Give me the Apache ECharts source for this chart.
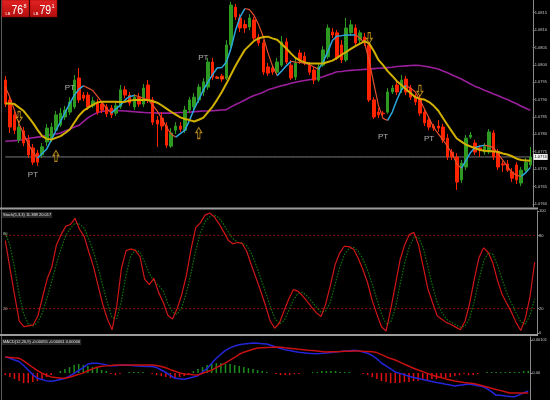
<!DOCTYPE html>
<html><head><meta charset="utf-8">
<script src="https://cdn.jsdelivr.net/npm/echarts@6/dist/echarts.min.js"></script>
<style>html,body{margin:0;padding:0;background:#000;}#c{width:550px;height:400px;}</style>
</head><body><div id="c"></div>
<script>
const open = [1.07956,1.07899,1.07856,1.07784,1.07810,1.07784,1.07761,1.07746,1.07741,1.07778,
1.07784,1.07812,1.07827,1.07850,1.07864,1.07879,1.07962,1.07913,1.07913,1.07882,
1.07890,1.07887,1.07879,1.07876,1.07861,1.07879,1.07928,1.07913,1.07879,1.07907,
1.07887,1.07942,1.07899,1.07841,1.07847,1.07824,1.07766,1.07812,1.07824,1.07812,
1.07870,1.07879,1.07899,1.07922,1.07936,1.08008,1.07965,1.07968,1.07962,1.08057,
1.08166,1.08135,1.08116,1.08109,1.08129,1.08080,1.08063,1.07994,1.07991,1.07979,
1.07999,1.08066,1.07999,1.07965,1.08034,1.08025,1.07999,1.07985,1.07956,1.07999,
1.08023,1.08094,1.08092,1.08057,1.08014,1.08092,1.08106,1.08071,1.08080,1.08057,
1.07899,1.07864,1.07861,1.07864,1.07922,1.07942,1.07928,1.07959,1.07933,1.07907,
1.07904,1.07864,1.07841,1.07824,1.07824,1.07821,1.07789,1.07749,1.07735,1.07669,
1.07706,1.07792,1.07775,1.07761,1.07749,1.07749,1.07804,1.07749,1.07715,1.07715,
1.07692,1.07712,1.07660,1.07697,1.07712];
const close = [1.07887,1.07821,1.07812,1.07821,1.07775,1.07741,1.07720,1.07720,1.07764,1.07818,
1.07821,1.07856,1.07861,1.07870,1.07893,1.07956,1.07899,1.07904,1.07879,1.07896,
1.07864,1.07870,1.07859,1.07856,1.07882,1.07928,1.07913,1.07890,1.07907,1.07887,
1.07933,1.07899,1.07835,1.07830,1.07824,1.07769,1.07804,1.07824,1.07815,1.07870,
1.07899,1.07907,1.07936,1.07951,1.08008,1.07965,1.07962,1.07959,1.08057,1.08172,
1.08138,1.08106,1.08106,1.08135,1.08077,1.08063,1.07979,1.07976,1.07979,1.08008,
1.08066,1.08008,1.07962,1.08005,1.08014,1.08008,1.07979,1.07956,1.07994,1.08043,
1.08106,1.08086,1.08020,1.08014,1.08106,1.08115,1.08063,1.08092,1.08063,1.07899,
1.07850,1.07856,1.07859,1.07922,1.07933,1.07922,1.07956,1.07922,1.07907,1.07893,
1.07861,1.07833,1.07821,1.07818,1.07818,1.07784,1.07735,1.07735,1.07663,1.07717,
1.07789,1.07798,1.07749,1.07755,1.07766,1.07807,1.07735,1.07706,1.07712,1.07697,
1.07674,1.07669,1.07697,1.07720,1.07735];
const high = [1.07968,1.07910,1.07870,1.07835,1.07821,1.07798,1.07772,1.07755,1.07775,1.07830,
1.07833,1.07867,1.07876,1.07882,1.07907,1.07971,1.07991,1.07922,1.07922,1.07907,
1.07902,1.07896,1.07887,1.07884,1.07893,1.07942,1.07939,1.07922,1.07916,1.07919,
1.07945,1.07956,1.07907,1.07853,1.07864,1.07835,1.07818,1.07835,1.07835,1.07882,
1.07907,1.07919,1.07945,1.07962,1.08020,1.08020,1.07968,1.07974,1.08071,1.08181,
1.08175,1.08146,1.08129,1.08146,1.08138,1.08089,1.08071,1.08005,1.07999,1.08020,
1.08083,1.08077,1.08014,1.08020,1.08043,1.08037,1.08008,1.07994,1.08002,1.08054,
1.08116,1.08106,1.08100,1.08071,1.08135,1.08129,1.08116,1.08100,1.08092,1.08071,
1.07907,1.07876,1.07867,1.07933,1.07942,1.07951,1.07971,1.07968,1.07942,1.07916,
1.07913,1.07873,1.07850,1.07830,1.07841,1.07830,1.07801,1.07758,1.07746,1.07726,
1.07798,1.07807,1.07784,1.07769,1.07775,1.07815,1.07812,1.07758,1.07723,1.07726,
1.07703,1.07720,1.07706,1.07732,1.07764];
const low = [1.07879,1.07804,1.07801,1.07775,1.07766,1.07732,1.07712,1.07709,1.07732,1.07766,
1.07778,1.07807,1.07821,1.07841,1.07856,1.07873,1.07890,1.07896,1.07870,1.07876,
1.07856,1.07861,1.07850,1.07847,1.07853,1.07873,1.07904,1.07882,1.07870,1.07879,
1.07879,1.07890,1.07827,1.07764,1.07812,1.07761,1.07761,1.07801,1.07807,1.07804,
1.07861,1.07870,1.07890,1.07910,1.07928,1.07956,1.07959,1.07951,1.07956,1.08048,
1.08129,1.08094,1.08092,1.08100,1.08071,1.08054,1.07971,1.07968,1.07971,1.07974,
1.07994,1.08002,1.07956,1.07956,1.08002,1.07999,1.07971,1.07945,1.07951,1.07994,
1.08017,1.08077,1.08014,1.08005,1.08008,1.08083,1.08057,1.08063,1.08054,1.07893,
1.07844,1.07847,1.07853,1.07859,1.07916,1.07913,1.07919,1.07913,1.07899,1.07884,
1.07853,1.07824,1.07812,1.07810,1.07807,1.07775,1.07726,1.07726,1.07640,1.07660,
1.07697,1.07787,1.07741,1.07735,1.07741,1.07743,1.07726,1.07697,1.07692,1.07692,
1.07663,1.07657,1.07651,1.07692,1.07706];
const hullMA = [1.07936,1.07907,1.07869,1.07830,1.07800,1.07772,1.07749,1.07732,1.07745,1.07758,
1.07784,1.07811,1.07837,1.07864,1.07889,1.07913,1.07930,1.07940,1.07933,1.07926,
1.07909,1.07892,1.07874,1.07861,1.07873,1.07884,1.07899,1.07909,1.07912,1.07909,
1.07904,1.07899,1.07884,1.07867,1.07844,1.07820,1.07801,1.07792,1.07802,1.07812,
1.07841,1.07873,1.07900,1.07928,1.07951,1.07972,1.07991,1.07992,1.08008,1.08048,
1.08100,1.08139,1.08162,1.08159,1.08142,1.08115,1.08081,1.08035,1.07997,1.07969,
1.07982,1.07997,1.08010,1.08008,1.08007,1.08004,1.08001,1.07994,1.07987,1.08008,
1.08038,1.08070,1.08083,1.08084,1.08086,1.08086,1.08086,1.08077,1.08063,1.08011,
1.07946,1.07883,1.07846,1.07840,1.07864,1.07899,1.07929,1.07940,1.07933,1.07922,
1.07899,1.07873,1.07846,1.07820,1.07801,1.07785,1.07765,1.07745,1.07715,1.07702,
1.07725,1.07748,1.07762,1.07766,1.07769,1.07766,1.07762,1.07743,1.07726,1.07707,
1.07690,1.07682,1.07679,1.07690,1.07705];
const yellowMA = [1.07889,1.07889,1.07887,1.07877,1.07867,1.07850,1.07833,1.07813,1.07795,1.07787,
1.07785,1.07790,1.07795,1.07804,1.07814,1.07834,1.07854,1.07868,1.07877,1.07885,
1.07892,1.07894,1.07894,1.07894,1.07894,1.07893,1.07894,1.07897,1.07899,1.07899,
1.07899,1.07899,1.07895,1.07891,1.07883,1.07874,1.07865,1.07857,1.07849,1.07844,
1.07841,1.07837,1.07842,1.07848,1.07864,1.07880,1.07900,1.07922,1.07946,1.07972,
1.07998,1.08021,1.08043,1.08056,1.08069,1.08076,1.08080,1.08081,1.08076,1.08072,
1.08060,1.08047,1.08033,1.08020,1.08012,1.08007,1.08004,1.08004,1.08004,1.08004,
1.08008,1.08012,1.08020,1.08029,1.08037,1.08046,1.08054,1.08061,1.08068,1.08061,
1.08040,1.08014,1.07999,1.07982,1.07968,1.07953,1.07942,1.07930,1.07918,1.07907,
1.07902,1.07900,1.07893,1.07882,1.07868,1.07847,1.07827,1.07807,1.07788,1.07779,
1.07770,1.07765,1.07760,1.07755,1.07753,1.07752,1.07751,1.07749,1.07745,1.07742,
1.07737,1.07730,1.07726,1.07725,1.07724];
const purpleMA = [1.07780,1.07781,1.07782,1.07783,1.07785,1.07788,1.07790,1.07792,1.07794,1.07797,
1.07799,1.07801,1.07804,1.07810,1.07815,1.07821,1.07826,1.07837,1.07848,1.07856,
1.07863,1.07866,1.07868,1.07870,1.07869,1.07868,1.07867,1.07866,1.07865,1.07864,
1.07863,1.07862,1.07862,1.07861,1.07861,1.07861,1.07861,1.07862,1.07863,1.07863,
1.07864,1.07865,1.07866,1.07867,1.07867,1.07868,1.07869,1.07870,1.07871,1.07879,
1.07886,1.07892,1.07899,1.07906,1.07912,1.07916,1.07921,1.07928,1.07932,1.07936,
1.07940,1.07943,1.07947,1.07950,1.07953,1.07955,1.07957,1.07959,1.07962,1.07966,
1.07971,1.07975,1.07980,1.07981,1.07983,1.07984,1.07985,1.07986,1.07987,1.07988,
1.07989,1.07990,1.07991,1.07992,1.07993,1.07995,1.07996,1.07997,1.07998,1.07999,
1.07998,1.07996,1.07994,1.07991,1.07988,1.07982,1.07977,1.07971,1.07965,1.07959,
1.07952,1.07945,1.07938,1.07933,1.07927,1.07922,1.07916,1.07911,1.07905,1.07900,
1.07894,1.07888,1.07881,1.07875,1.07869];
const stochMain = [75.7,53.0,30.8,9.7,5.2,5.9,6.6,13.9,29.1,44.2,
53.9,72.1,80.6,87.4,88.9,94.0,84.8,79.0,66.2,54.2,
38.5,23.2,11.3,2.7,22.1,52.9,67.5,68.9,67.7,62.5,
44.1,39.6,44.7,33.3,25.1,14.6,11.4,19.9,31.6,47.5,
68.8,86.4,90.3,96.6,98.4,95.2,89.7,83.1,76.1,73.1,
74.2,73.4,66.8,55.5,45.1,34.2,23.0,10.2,3.9,8.0,
17.8,27.5,35.5,34.3,30.5,25.9,21.1,16.5,13.5,23.9,
39.1,55.7,65.5,71.1,70.8,68.7,61.2,52.1,41.4,26.7,
15.5,5.1,1.6,19.4,39.5,59.8,72.2,80.7,82.5,72.1,
54.3,36.1,25.0,14.1,11.2,8.5,7.0,4.8,2.6,9.6,
24.4,44.2,61.7,69.8,66.0,57.3,42.9,31.5,24.1,17.1,
8.5,2.0,12.0,30.0,58.0];
const stochSignal = [82,72,53.2,31.2,15.2,6.9,5.9,8.8,16.5,29.1,
42.4,56.7,68.9,80.0,85.6,90.1,89.2,85.9,76.7,66.5,
53.0,38.6,24.3,12.4,12.0,25.9,47.5,63.1,68.0,66.4,
58.1,48.7,42.8,39.2,34.4,24.3,17.0,15.3,21.0,33.0,
49.3,67.6,81.8,91.1,95.1,96.7,94.4,89.3,83.0,77.4,
74.5,73.6,71.5,65.2,55.8,44.9,34.1,22.5,12.4,7.4,
9.9,17.8,26.9,32.4,33.4,30.2,25.8,21.2,17.0,18.0,
25.5,39.6,53.4,64.1,69.1,70.2,66.9,60.7,51.6,40.1,
27.9,15.8,7.4,8.7,20.2,39.6,57.2,70.9,78.5,78.4,
69.6,54.2,38.5,25.1,16.8,11.3,8.9,6.8,4.8,5.7,
12.2,26.1,43.4,58.6,65.8,64.4,55.4,43.9,32.8,24.2,
16.6,9.2,7.5,14.7,28];
const macdMain = [0.000497,0.000451,0.000397,0.000354,0.000232,0.000095,-0.000046,-0.000159,-0.000198,-0.000238,
-0.000250,-0.000223,-0.000195,-0.000165,-0.000092,-0.000006,0.000079,0.000168,0.000275,0.000299,
0.000299,0.000281,0.000250,0.000223,0.000226,0.000238,0.000247,0.000238,0.000226,0.000217,
0.000210,0.000204,0.000198,0.000168,0.000095,0.000018,-0.000073,-0.000159,-0.000174,-0.000189,
-0.000159,-0.000122,-0.000082,0.000034,0.000143,0.000299,0.000454,0.000576,0.000692,0.000769,
0.000827,0.000866,0.000885,0.000903,0.000915,0.000906,0.000897,0.000888,0.000842,0.000796,
0.000747,0.000714,0.000686,0.000656,0.000634,0.000622,0.000607,0.000595,0.000586,0.000601,
0.000613,0.000628,0.000644,0.000656,0.000671,0.000683,0.000698,0.000683,0.000644,0.000604,
0.000534,0.000436,0.000308,0.000223,0.000128,0.000034,-0.000009,-0.000052,-0.000095,-0.000137,
-0.000168,-0.000198,-0.000226,-0.000253,-0.000284,-0.000311,-0.000339,-0.000366,-0.000390,-0.000372,
-0.000354,-0.000336,-0.000357,-0.000384,-0.000412,-0.000470,-0.000567,-0.000677,-0.000674,-0.000695,
-0.000714,-0.000720,-0.000665,-0.000601,-0.000552];
const macdSignal = [0.000488,0.000476,0.000464,0.000454,0.000372,0.000275,0.000171,0.000073,0.000000,-0.000067,
-0.000116,-0.000134,-0.000149,-0.000159,-0.000125,-0.000082,-0.000040,0.000006,0.000070,0.000128,
0.000177,0.000210,0.000220,0.000232,0.000247,0.000247,0.000247,0.000247,0.000247,0.000247,
0.000247,0.000247,0.000247,0.000232,0.000198,0.000162,0.000104,0.000055,0.000006,-0.000024,
-0.000037,-0.000049,-0.000055,-0.000006,0.000040,0.000088,0.000165,0.000238,0.000314,0.000393,
0.000482,0.000573,0.000637,0.000680,0.000726,0.000766,0.000775,0.000781,0.000787,0.000796,
0.000784,0.000769,0.000756,0.000741,0.000726,0.000714,0.000698,0.000686,0.000671,0.000656,
0.000644,0.000650,0.000653,0.000656,0.000662,0.000668,0.000671,0.000671,0.000662,0.000656,
0.000650,0.000625,0.000561,0.000500,0.000442,0.000400,0.000336,0.000271,0.000210,0.000146,
0.000095,0.000046,-0.000009,-0.000058,-0.000107,-0.000137,-0.000177,-0.000210,-0.000244,-0.000265,
-0.000287,-0.000305,-0.000320,-0.000345,-0.000384,-0.000421,-0.000461,-0.000500,-0.000534,-0.000570,
-0.000604,-0.000607,-0.000607,-0.000607,-0.000607];
const macdHist = [-0.000061,-0.000122,-0.000183,-0.000244,-0.000305,-0.000305,-0.000275,-0.000244,-0.000183,-0.000122,
-0.000061,0,0.000061,0.000122,0.000183,0.000244,0.000275,0.000244,0.000214,0.000183,
0.000153,0.000092,0.000061,-0.000031,-0.000061,-0.000031,0,0.000031,0.000031,0.000031,
0.000031,0,-0.000031,-0.000061,-0.000092,-0.000122,-0.000153,-0.000153,-0.000122,-0.000092,
-0.000031,0.000061,0.000122,0.000183,0.000244,0.000275,0.000305,0.000305,0.000275,0.000275,
0.000244,0.000214,0.000183,0.000153,0.000122,0.000092,0.000061,0.000031,0,-0.000031,
-0.000061,-0.000061,-0.000061,-0.000031,-0.000031,0,0,0.000031,0.000031,0.000061,
0.000061,0.000061,0.000061,0.000031,0.000031,0.000031,0,0,-0.000031,-0.000061,
-0.000122,-0.000183,-0.000244,-0.000275,-0.000305,-0.000305,-0.000305,-0.000275,-0.000275,-0.000244,
-0.000244,-0.000214,-0.000214,-0.000183,-0.000183,-0.000153,-0.000153,-0.000122,-0.000092,-0.000061,
-0.000031,-0.000061,-0.000061,-0.000031,0,0.000031,0.000031,0.000031,0.000031,0.000031,
0.000031,0.000031,0.000031,0.000061,0.000061];
const priceTicks = [1.0760,1.0765,1.0770,1.0775,1.0780,1.0785,1.0790,1.0795,1.0800,1.0805,1.0810,1.0815];
const stochTicks = [0,20,80,100];
const stochLevels = [80,20];
const macdTicks = [0,0.00101];
const downArrows = [[3,1.07850],[79,1.08077],[90,1.07925]];
const upArrows = [[11,1.07738],[42,1.07804]];
const ptMarks = [[6,1.07685],[14,1.07934],[43,1.08019],[82,1.07793],[92,1.07786]];
const dashMark = [[46,1.07962],[48,1.07962]];
const categories = open.map((_, i) => String(i + 1));
const lastPrice = close[close.length - 1];

const chart = echarts.init(document.getElementById('c'), null, {renderer:'canvas'});
const candles = open.map((o, i) => [o, close[i], low[i], high[i]]);
const bidLine = categories.map(() => lastPrice);
const levelLine = lv => categories.map(() => lv);

// split hull MA into monotone runs (falling = red, rising = blue)
const hullSeries = [];
let start = 0;
const dirAt = i => hullMA[i] < hullMA[i - 1] ? 'down' : 'up';
let cur = dirAt(1);
for (let i = 2; i <= hullMA.length; i++) {
  const d = i < hullMA.length ? dirAt(i) : null;
  if (d !== cur) {
    const data = hullMA.map((v, k) => (k >= start && k <= i - 1) ? v : null);
    hullSeries.push({type:'line', xAxisIndex:0, yAxisIndex:0, data, symbol:'none', connectNulls:false,
      lineStyle:{color: cur === 'down' ? '#e2502f' : '#2ba6de', width: cur === 'down' ? 1.2 : 1.5}, z:4, silent:true});
    start = i - 1; cur = d;
  }
}

const grids = [
  {left:3, right:13, top:0, height:207},
  {left:3, right:13, top:211, height:122},
  {left:3, right:13, top:337, height:63}
];
const xAxes = grids.map((g, i) => ({type:'category', gridIndex:i, data:categories, boundaryGap:true,
  axisLine:{show:false}, axisTick:{show:false}, axisLabel:{show:false}, splitLine:{show:false}}));
const labelStyle = {fontSize:4, color:'#c8c8c8', margin:2, fontFamily:'Liberation Sans'};
const yAxes = [
  {type:'value', gridIndex:0, position:'right', min:1.075910, max:1.081865, splitLine:{show:false},
   axisLine:{show:true, lineStyle:{color:'#8a8a8a'}},
   axisTick:{show:true, length:2, customValues:priceTicks, lineStyle:{color:'#8a8a8a'}},
   axisLabel:Object.assign({customValues:priceTicks, formatter:v => v.toFixed(4)}, labelStyle)},
  {type:'value', gridIndex:1, position:'right', min:0, max:100, splitLine:{show:false},
   axisLine:{show:true, lineStyle:{color:'#8a8a8a'}},
   axisTick:{show:true, length:2, customValues:stochTicks, lineStyle:{color:'#8a8a8a'}},
   axisLabel:Object.assign({customValues:stochTicks, formatter:v => String(v)}, labelStyle)},
  {type:'value', gridIndex:2, position:'right', min:-0.00082, max:0.0011, splitLine:{show:false},
   axisLine:{show:true, lineStyle:{color:'#8a8a8a'}},
   axisTick:{show:true, length:2, customValues:macdTicks, lineStyle:{color:'#8a8a8a'}},
   axisLabel:Object.assign({customValues:macdTicks, formatter:v => v === 0 ? '0.00' : v.toFixed(5)}, labelStyle)}
];

const downPath = 'path://M3,0L7,0L7,7L10,7L5,13L0,7L3,7Z';
const upPath = 'path://M5,0L10,6L7,6L7,13L3,13L3,6L0,6Z';

const series = [
  {type:'line', name:'bid', xAxisIndex:0, yAxisIndex:0, data:bidLine, symbol:'none', silent:true, z:1,
   lineStyle:{color:'#7a7a7a', width:1},
   endLabel:{show:true, formatter:() => lastPrice.toFixed(4), fontSize:4, color:'#000', backgroundColor:'#f0f0f0', padding:[1,1], distance:3}},
  {type:'line', name:'purple', xAxisIndex:0, yAxisIndex:0, data:purpleMA, symbol:'none', lineStyle:{color:'#9a1f9a', width:1.6}, z:2, silent:true},
  {type:'candlestick', name:'price', xAxisIndex:0, yAxisIndex:0, data:candles, barWidth:3, z:3,
   itemStyle:{color:'#2f9a22', color0:'#ff2400', borderColor:'#2f9a22', borderColor0:'#ff2400', borderWidth:1}},
  {type:'line', name:'yellow', xAxisIndex:0, yAxisIndex:0, data:yellowMA, symbol:'none', lineStyle:{color:'#d2b000', width:2}, z:5, silent:true},
  ...hullSeries,
  {type:'line', xAxisIndex:0, yAxisIndex:0, data:dashMark, symbol:'none', lineStyle:{color:'#d9a020', width:1, type:[2,2]}, z:5, silent:true},
  {type:'scatter', xAxisIndex:0, yAxisIndex:0, data:downArrows, symbol:downPath, symbolSize:[6,11],
   itemStyle:{color:'#1c1600', borderColor:'#e0a820', borderWidth:1}, z:6, silent:true},
  {type:'scatter', xAxisIndex:0, yAxisIndex:0, data:upArrows, symbol:upPath, symbolSize:[6,11],
   itemStyle:{color:'#1c1600', borderColor:'#e0a820', borderWidth:1}, z:6, silent:true},
  {type:'scatter', xAxisIndex:0, yAxisIndex:0, data:ptMarks, symbolSize:0,
   label:{show:true, position:'inside', formatter:'PT', color:'#d8d8d8', fontSize:8, fontFamily:'Liberation Sans Narrow, Liberation Sans'}, z:6, silent:true},
  ...stochLevels.map(lv => ({type:'line', xAxisIndex:1, yAxisIndex:1, data:levelLine(lv), symbol:'none', silent:true, z:1,
     lineStyle:{color:'#9a1212', width:1, type:[2,2]}})),
  {type:'line', name:'stochMain', xAxisIndex:1, yAxisIndex:1, data:stochMain, symbol:'none', lineStyle:{color:'#d01616', width:1.2}, z:3, silent:true},
  {type:'line', name:'stochSignal', xAxisIndex:1, yAxisIndex:1, data:stochSignal, symbol:'none', lineStyle:{color:'#0c780c', width:1.2, type:[1.5,1.5]}, z:2, silent:true},
  {type:'bar', name:'hist', xAxisIndex:2, yAxisIndex:2, data:macdHist.map(v => ({value:v, itemStyle:{color: v >= 0 ? '#1b8f1b' : '#e01010'}})), barWidth:1.5, z:2, silent:true},
  {type:'line', name:'macd', xAxisIndex:2, yAxisIndex:2, data:macdMain, symbol:'none', lineStyle:{color:'#2424d8', width:1.5}, z:3, silent:true},
  {type:'line', name:'signal', xAxisIndex:2, yAxisIndex:2, data:macdSignal, symbol:'none', lineStyle:{color:'#c81010', width:1.5}, z:4, silent:true}
];

const smallTxt = (x, y, text, size, fill, bg) => ({type:'text', x, y, z:100, silent:true,
  style:{text, fontSize:size, fill, fontFamily:'Liberation Sans', textVerticalAlign:'top', backgroundColor:bg, padding: bg ? [1,1] : 0}});
const badgeGrad = new echarts.graphic.LinearGradient(0,0,0,1,[{offset:0,color:'#e42222'},{offset:1,color:'#b30e0e'}]);
const bigDigits = (x, text) => ({type:'text', x, y:3.5, scaleX:0.78, z:100, silent:true,
  style:{text, fontSize:13.5, fill:'#fff', fontFamily:'Liberation Sans', textVerticalAlign:'top'}});
const graphic = [
  {type:'line', shape:{x1:1.5,y1:0,x2:1.5,y2:400}, style:{stroke:'#5a5a5a', lineWidth:1}, z:90, silent:true},
  {type:'line', shape:{x1:0,y1:208.5,x2:538,y2:208.5}, style:{stroke:'#9c9c9c', lineWidth:2}, z:90, silent:true},
  {type:'line', shape:{x1:0,y1:335,x2:538,y2:335}, style:{stroke:'#9c9c9c', lineWidth:2}, z:90, silent:true},
  {type:'rect', shape:{x:2,y:0,width:27,height:17}, style:{fill:badgeGrad, stroke:'#8a0808', lineWidth:0.5}, z:95, silent:true},
  {type:'rect', shape:{x:30,y:0,width:27,height:17}, style:{fill:badgeGrad, stroke:'#8a0808', lineWidth:0.5}, z:95, silent:true},
  {type:'text', x:5.5, y:12, z:100, silent:true, style:{text:'LB', fontSize:4, fill:'#fff', fontFamily:'Liberation Sans', textVerticalAlign:'top'}},
  bigDigits(11.5, '76'),
  {type:'text', x:23.5, y:3, z:100, silent:true, style:{text:'8', fontSize:5.5, fill:'#fff', fontFamily:'Liberation Sans', textVerticalAlign:'top'}},
  {type:'text', x:33.5, y:12, z:100, silent:true, style:{text:'LB', fontSize:4, fill:'#fff', fontFamily:'Liberation Sans', textVerticalAlign:'top'}},
  bigDigits(39.5, '79'),
  {type:'text', x:51.5, y:3, z:100, silent:true, style:{text:'1', fontSize:5.5, fill:'#fff', fontFamily:'Liberation Sans', textVerticalAlign:'top'}},
  smallTxt(2, 212, 'Stoch(5,3,3) 11.388 20.017', 4, '#e0e0e0', '#262626'),
  smallTxt(2, 339, 'MACD(12,26,9) -0.00055 -0.00061 0.00006', 4, '#e0e0e0', '#262626'),
  smallTxt(3, 232, '80', 4, '#bbbbbb'),
  smallTxt(3, 307, '20', 4, '#bbbbbb')
];

chart.setOption({
  backgroundColor:'#000',
  animation:false,
  grid:grids,
  xAxis:xAxes,
  yAxis:yAxes,
  series,
  graphic
});
</script>
</body></html>
